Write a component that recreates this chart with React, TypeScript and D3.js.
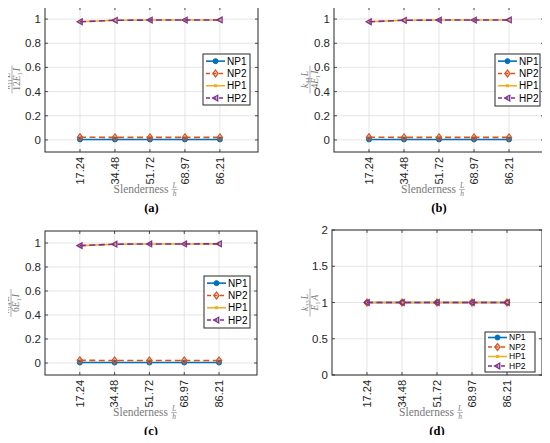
import * as d3 from "d3";

const W = 550;
const H = 443;

// slenderness ratios L/h used on every x axis
const slenderness = [17.24, 34.48, 51.72, 68.97, 86.21];
const slendernessLabels = ["17.24", "34.48", "51.72", "68.97", "86.21"];

// normalised stiffness, bending terms (panels a-c)
const np1Bending = [0.004, 0.004, 0.004, 0.004, 0.004];
const np2Bending = [0.022, 0.021, 0.021, 0.021, 0.021];
const hp1Bending = [0.978, 0.99, 0.992, 0.992, 0.993];
const hp2Bending = [0.978, 0.99, 0.992, 0.992, 0.993];

// normalised axial stiffness (panel d)
const np1Axial = [1, 1, 1, 1, 1];
const np2Axial = [1, 1, 1, 1, 1];
const hp1Axial = [1, 1, 1, 1, 1];
const hp2Axial = [1, 1, 1, 1, 1];

const seriesNames = ["NP1", "NP2", "HP1", "HP2"];
const bendingTicks = [0, 0.2, 0.4, 0.6, 0.8, 1];
const axialTicks = [0, 0.5, 1, 1.5, 2];

const COLORS = ["#0072BD", "#D95319", "#EDB120", "#7E2F8E"];
const DASH = [null, "6,3.5", null, "6,3.5"];
const AXIS = "#262626";
const GRID = "#dedede";
const LABEL = "#7a7a7a";
const SANS = "'Liberation Sans', Arial, Helvetica, sans-serif";
const SERIF = "'Liberation Serif', 'Times New Roman', serif";

type Frac = { num: [string, string, string, string]; den: [string, string, string, string] };

const panels = [
  {
    tag: "(a)", left: 45, right: 258, top: 7, bottom: 152, xMax: 105,
    yDomain: [-0.1, 1.1], yTicks: bendingTicks,
    series: [np1Bending, np2Bending, hp1Bending, hp2Bending],
    legend: { x: 203, y: 54, w: 47, h: 51, row: 12.3, font: 10 },
    ylabX: 12,
    frac: { num: ["k", "11", "L", "3"], den: ["12", "E", "1", "I"] } as Frac,
  },
  {
    tag: "(b)", left: 334, right: 544, top: 7, bottom: 152, xMax: 103.45,
    yDomain: [-0.1, 1.1], yTicks: bendingTicks,
    series: [np1Bending, np2Bending, hp1Bending, hp2Bending],
    legend: { x: 495, y: 54, w: 45, h: 52, row: 12.3, font: 10 },
    ylabX: 310,
    frac: { num: ["k", "44", "L", ""], den: ["4", "E", "1", "I"] } as Frac,
  },
  {
    tag: "(c)", left: 45, right: 257, top: 231, bottom: 375, xMax: 105,
    yDomain: [-0.1, 1.1], yTicks: bendingTicks,
    series: [np1Bending, np2Bending, hp1Bending, hp2Bending],
    legend: { x: 204, y: 276, w: 46, h: 52, row: 12.3, font: 10 },
    ylabX: 11,
    frac: { num: ["k", "14", "L", "2"], den: ["6", "E", "1", "I"] } as Frac,
  },
  {
    tag: "(d)", left: 332, right: 542, top: 230, bottom: 375, xMax: 103.45,
    yDomain: [0, 2], yTicks: axialTicks,
    series: [np1Axial, np2Axial, hp1Axial, hp2Axial],
    legend: { x: 485, y: 332, w: 50, h: 40, row: 9.5, font: 8.5 },
    ylabX: 310,
    frac: { num: ["k", "33", "L", ""], den: ["", "E", "1", "A"] } as Frac,
  },
];

function Marker({ i, x, y }: { i: number; x: number; y: number }) {
  const c = COLORS[i];
  if (i === 0) return <circle cx={x} cy={y} r={2.5} fill={c} stroke={c} strokeWidth={1} />;
  if (i === 1)
    return (
      <path
        d={`M${x},${y - 3.4}L${x + 2.6},${y}L${x},${y + 3.4}L${x - 2.6},${y}Z`}
        fill="none" stroke={c} strokeWidth={1.3}
      />
    );
  if (i === 2) return <rect x={x - 1.5} y={y - 1.5} width={3} height={3} fill={c} />;
  return (
    <path
      d={`M${x - 2.8},${y}L${x + 2.2},${y - 2.8}L${x + 2.2},${y + 2.8}Z`}
      fill="none" stroke={c} strokeWidth={1.3}
    />
  );
}

function FracLabel({ x, y, frac }: { x: number; y: number; frac: Frac }) {
  const [k, ks, l, lp] = frac.num;
  const [coef, e, es, v] = frac.den;
  return (
    <g transform={`translate(${x},${y}) rotate(-90)`} fill={LABEL} fontFamily={SERIF}>
      <text y={-2} textAnchor="middle" fontSize={9.5}>
        <tspan fontStyle="italic">{k}</tspan>
        <tspan fontSize={6.5} dy={2}>{ks}</tspan>
        <tspan fontStyle="italic" dy={-2} dx={1}>{l}</tspan>
        {lp && <tspan fontSize={6.5} dy={-3.5}>{lp}</tspan>}
      </text>
      <line x1={-14} x2={14} y1={0} y2={0} stroke={LABEL} strokeWidth={0.6} />
      <text y={8} textAnchor="middle" fontSize={9.5}>
        {coef}
        <tspan fontStyle="italic">{e}</tspan>
        <tspan fontSize={6.5} dy={2}>{es}</tspan>
        <tspan fontStyle="italic" dy={-2} dx={1}>{v}</tspan>
      </text>
    </g>
  );
}

function Panel({ p }: { p: (typeof panels)[number] }) {
  const x = d3.scaleLinear().domain([0, p.xMax]).range([p.left, p.right]);
  const y = d3.scaleLinear().domain(p.yDomain).range([p.bottom, p.top]);
  const fmt = d3.format("~g");
  const line = d3
    .line<number>()
    .x((_, i) => x(slenderness[i]))
    .y((d) => y(d));
  const cx = (p.left + p.right) / 2;
  const lg = p.legend;

  return (
    <g>
      {/* grid */}
      {slenderness.map((s) => (
        <line key={"gx" + s} x1={x(s)} x2={x(s)} y1={p.top} y2={p.bottom} stroke={GRID} strokeWidth={0.8} />
      ))}
      {p.yTicks.map((t) => (
        <line key={"gy" + t} x1={p.left} x2={p.right} y1={y(t)} y2={y(t)} stroke={GRID} strokeWidth={0.8} />
      ))}

      {/* series */}
      {p.series.map((vals, i) => (
        <g key={seriesNames[i]}>
          <path
            d={line(vals) || ""}
            fill="none"
            stroke={COLORS[i]}
            strokeWidth={1.6}
            strokeDasharray={DASH[i] || undefined}
          />
          {vals.map((v, j) => (
            <Marker key={j} i={i} x={x(slenderness[j])} y={y(v)} />
          ))}
        </g>
      ))}

      {/* box and ticks */}
      <rect x={p.left} y={p.top} width={p.right - p.left} height={p.bottom - p.top} fill="none" stroke={AXIS} strokeWidth={1} />
      {slenderness.map((s) => (
        <g key={"tx" + s} stroke={AXIS} strokeWidth={0.8}>
          <line x1={x(s)} x2={x(s)} y1={p.bottom} y2={p.bottom - 3} />
          <line x1={x(s)} x2={x(s)} y1={p.top} y2={p.top + 3} />
        </g>
      ))}
      {p.yTicks.map((t) => (
        <g key={"ty" + t} stroke={AXIS} strokeWidth={0.8}>
          <line x1={p.left} x2={p.left + 3} y1={y(t)} y2={y(t)} />
          <line x1={p.right} x2={p.right - 3} y1={y(t)} y2={y(t)} />
        </g>
      ))}

      {/* tick labels */}
      {p.yTicks.map((t) => (
        <text key={"ly" + t} x={p.left - 4} y={y(t)} dy="0.35em" textAnchor="end" fontSize={11.5} fontFamily={SANS} fill={AXIS}>
          {fmt(t)}
        </text>
      ))}
      {slenderness.map((s, i) => (
        <text
          key={"lx" + s}
          transform={`translate(${x(s)},${p.bottom + 5}) rotate(-90)`}
          dy="0.35em"
          textAnchor="end"
          fontSize={11}
          fontFamily={SANS}
          fill={AXIS}
        >
          {slendernessLabels[i]}
        </text>
      ))}

      {/* axis labels */}
      <FracLabel x={p.ylabX} y={(p.top + p.bottom) / 2} frac={p.frac} />
      <text x={cx + 17} y={p.bottom + 41} textAnchor="end" fontSize={11.5} fontFamily={SERIF} fill={LABEL}>
        Slenderness
      </text>
      <g fill={LABEL} fontFamily={SERIF} fontSize={7.5} fontStyle="italic">
        <text x={cx + 23} y={p.bottom + 36} textAnchor="middle">L</text>
        <line x1={cx + 20} x2={cx + 26} y1={p.bottom + 37.5} y2={p.bottom + 37.5} stroke={LABEL} strokeWidth={0.5} />
        <text x={cx + 23} y={p.bottom + 43.5} textAnchor="middle">h</text>
      </g>
      <text x={cx} y={p.bottom + 60} textAnchor="middle" fontSize={12.5} fontWeight="bold" fontFamily={SERIF} fill="#000">
        {p.tag}
      </text>

      {/* legend */}
      <rect x={lg.x} y={lg.y} width={lg.w} height={lg.h} fill="#fff" stroke={AXIS} strokeWidth={1} />
      {seriesNames.map((name, i) => {
        const ry = lg.y + lg.row * 0.58 + i * lg.row;
        return (
          <g key={name}>
            <line
              x1={lg.x + 3}
              x2={lg.x + 22}
              y1={ry}
              y2={ry}
              stroke={COLORS[i]}
              strokeWidth={1.6}
              strokeDasharray={DASH[i] ? "4,2.5" : undefined}
            />
            <Marker i={i} x={lg.x + 12.5} y={ry} />
            <text x={lg.x + 24} y={ry} dy="0.35em" fontSize={lg.font} fontFamily={SANS} fill="#000">
              {name}
            </text>
          </g>
        );
      })}
    </g>
  );
}

export default function App() {
  return (
    <svg width={W} height={H} style={{ display: "block", margin: -8 }}>
      <rect width={W} height={H} fill="#fff" />
      {panels.map((p) => (
        <Panel key={p.tag} p={p} />
      ))}
    </svg>
  );
}
